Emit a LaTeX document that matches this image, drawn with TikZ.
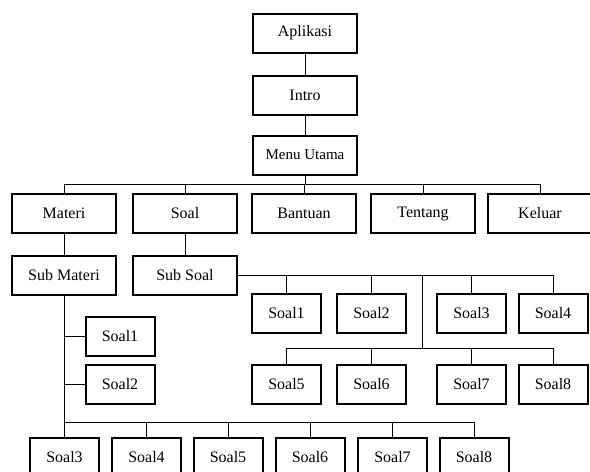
\documentclass[tikz,border=0pt]{standalone}
\usepackage{fontspec}
\setmainfont{Liberation Serif}
\begin{document}
\begin{tikzpicture}[
		x=1pt, y=-1pt,
		every node/.style={font=\fontsize{16pt}{18pt}\selectfont},
		kotak/.style={draw, line width=2pt, minimum width=104pt, minimum height=39pt, inner sep=0pt},
		kecil/.style={kotak, minimum width=69pt},
		garis/.style={line width=0.9pt}
		]
		\useasboundingbox (0,0) rectangle (590,472);
		
		% Kotak utama
		\node [kotak] (aplikasi) at (305,33) {Aplikasi};
		\node [kotak] (intro) at (305,95) {Intro};
		\node [kotak, font=\fontsize{15pt}{17pt}\selectfont] (menu) at (305,155) {Menu Utama};
		
		\node [kotak] (materi) at (64,213.5) {Materi};
		\node [kotak] (soal) at (185,213.5) {Soal};
		\node [kotak] (bantuan) at (304,213.5) {Bantuan};
		\node [kotak] (tentang) at (423,213.5) {Tentang};
		\node [kotak] (keluar) at (540,213.5) {Keluar};
		
		\node [kotak] (submateri) at (64,275.5) {Sub Materi};
		\node [kotak] (subsoal) at (185,275.5) {Sub Soal};
		
		% Soal kanan
		\node [kecil] (ka1) at (286.5,313) {Soal1};
		\node [kecil] (ka2) at (371.5,313) {Soal2};
		\node [kecil] (ka3) at (471.5,313) {Soal3};
		\node [kecil] (ka4) at (553,313) {Soal4};
		\node [kecil] (ka5) at (286.5,384.5) {Soal5};
		\node [kecil] (ka6) at (371.5,384.5) {Soal6};
		\node [kecil] (ka7) at (471.5,384.5) {Soal7};
		\node [kecil] (ka8) at (553,384.5) {Soal8};
		
		% Soal kiri
		\node [kecil] (ki1) at (120,336.5) {Soal1};
		\node [kecil] (ki2) at (120,384.5) {Soal2};
		\node [kecil] (ki3) at (64.5,457.5) {Soal3};
		\node [kecil] (ki4) at (146.5,457.5) {Soal4};
		\node [kecil] (ki5) at (228,457.5) {Soal5};
		\node [kecil] (ki6) at (310,457.5) {Soal6};
		\node [kecil] (ki7) at (392.5,457.5) {Soal7};
		\node [kecil] (ki8) at (474,457.5) {Soal8};
		
		\coordinate (busA) at (0,184);
		\coordinate (cabang) at (422,276);
		\coordinate (busB) at (0,348);
		\coordinate (busC) at (0,422);
		
		\draw [garis] (aplikasi) -- (intro);
		\draw [garis] (intro) -- (menu);
		\draw [garis] (menu) -- (menu |- busA);
		\draw [garis] (materi.north) |- (keluar |- busA) -- (keluar.north);
		\foreach \n in {soal,bantuan,tentang}
			\draw [garis] (\n.north) -- (\n |- busA);
		\draw [garis] (materi) -- (submateri);
		\draw [garis] (soal) -- (subsoal);
		
		\draw [garis] (subsoal.east) -| (ka4.north);
		\foreach \n in {ka1,ka2,ka3}
			\draw [garis] (\n.north) -- (\n |- subsoal.east);
		\draw [garis] (cabang) -- (cabang |- busB);
		\draw [garis] (ka5.north) |- (ka8 |- busB) -- (ka8.north);
		\foreach \n in {ka6,ka7}
			\draw [garis] (\n.north) -- (\n |- busB);
		
		\draw [garis] (submateri.south) -- (submateri |- busC) -| (ki8.north);
		\draw [garis] (ki1.west) -- (ki1.west -| submateri);
		\draw [garis] (ki2.west) -- (ki2.west -| submateri);
		\foreach \n in {ki3,ki4,ki5,ki6,ki7}
			\draw [garis] (\n.north) -- (\n |- busC);
		
	\end{tikzpicture}
\end{document}
